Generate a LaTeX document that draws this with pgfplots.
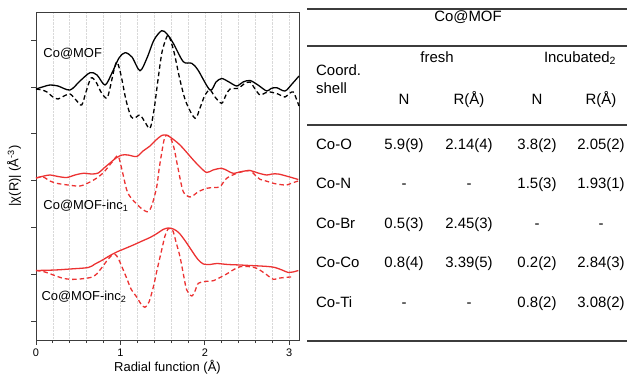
\documentclass[border=0pt]{standalone}
\usepackage{fontspec}
\setmainfont{Liberation Sans}
\usepackage{pgfplots}
\pgfplotsset{compat=1.18}
\definecolor{myred}{RGB}{236,50,50}
\definecolor{frm}{RGB}{60,60,60}
\begin{document}
\begin{tikzpicture}
\useasboundingbox (0,0) rectangle (627bp,-375bp);
\begin{axis}[
  at={(36bp,-340bp)}, anchor=south west,
  width=263bp, height=328bp, scale only axis,
  xmin=0, xmax=3.116, ymin=0, ymax=328,
  axis line style={frm, line width=0.9pt},
  xtick={0,1,2,3},
  minor xtick={0.2,0.4,0.6,0.8,1.2,1.4,1.6,1.8,2.2,2.4,2.6,2.8,3.0},
  ytick={19,66,113,160,207,253,300}, yticklabels={},
  tick align=outside, tick pos=left,
  major tick length=5bp, minor tick length=3bp,
  tick style={frm, line width=0.8pt},
  xmajorgrids, xminorgrids,
  major grid style={densely dotted, black!15, line width=0.6pt},
  minor grid style={densely dotted, black!15, line width=0.6pt},
  /pgf/number format/assume math mode=true,
  ticklabel style={font=\fontsize{11}{13}\selectfont},
  xlabel={Radial function (Å)},
  ylabel={|χ(R)| (Å\textsuperscript{-3})},
  label style={font=\fontsize{13}{15}\selectfont},
  xlabel style={at={(axis description cs:0.5,-0.082)}, anchor=center},
  ylabel style={at={(axis description cs:-0.083,0.5)}, anchor=center},
  clip=false,
]
% top black solid
\addplot[black, line width=1.3pt, smooth, tension=0.5] coordinates {
(0,251) (0.095,253.5) (0.166,255) (0.261,254) (0.403,250) (0.521,259) (0.640,267.3) (0.723,265)
(0.818,255) (0.9,267) (0.983,282) (1.055,287.3) (1.137,283) (1.232,269.3) (1.315,282) (1.398,300)
(1.489,309.3) (1.552,306) (1.627,296.7) (1.745,278.3) (1.845,276.7) (1.919,270) (2.062,250)
(2.133,258) (2.200,261.5) (2.287,258) (2.378,254) (2.453,258) (2.536,259.5) (2.630,255)
(2.733,249) (2.784,251.5) (2.852,252.3) (2.950,249) (3.033,256) (3.116,264)};
% top black dashed
\addplot[black, line width=1.3pt, dash pattern=on 4.5bp off 3bp, smooth, tension=0.5] coordinates {
(0,251) (0.071,250) (0.130,248) (0.201,243) (0.261,241) (0.332,244) (0.403,246) (0.474,240)
(0.541,235) (0.592,248) (0.652,262) (0.711,258) (0.770,248) (0.838,241.7) (0.877,252) (0.924,270)
(0.960,278) (1.007,265) (1.066,240) (1.126,223.3) (1.173,222) (1.232,225) (1.291,218) (1.351,211.7)
(1.398,230) (1.445,260) (1.493,288) (1.549,303) (1.576,304) (1.635,288) (1.706,260) (1.777,238)
(1.884,221.7) (1.943,232) (2.002,245) (2.062,250) (2.121,243) (2.200,236.7) (2.251,245) (2.299,251)
(2.397,251.7) (2.464,256) (2.536,258) (2.595,251) (2.654,245) (2.713,247) (2.773,248) (2.867,246)
(2.950,243) (3.009,247) (3.049,248) (3.081,242) (3.116,234)};
% middle red solid
\addplot[myred, line width=1.3pt, smooth, tension=0.5] coordinates {
(0,162) (0.095,164) (0.166,165) (0.261,163.5) (0.364,162.5) (0.462,165) (0.560,166.7) (0.664,166)
(0.738,167) (0.806,172) (0.877,177) (0.948,182) (1.019,185) (1.090,185) (1.193,183.5) (1.268,189)
(1.351,194) (1.422,200) (1.489,204.5) (1.540,205) (1.588,203) (1.706,195) (1.864,180) (1.943,173)
(2.022,167.5) (2.097,170) (2.200,171.7) (2.275,169) (2.338,166.7) (2.441,168.5) (2.536,169.5)
(2.630,167) (2.733,165) (2.796,166) (2.871,166) (2.986,163.5) (3.108,160.5)};
% middle red dashed
\addplot[myred, line width=1.3pt, dash pattern=on 4.5bp off 3bp, smooth, tension=0.5] coordinates {
(0,162) (0.083,163) (0.166,159) (0.245,156.7) (0.379,155) (0.521,154) (0.640,158) (0.738,163)
(0.806,168) (0.857,173.3) (0.912,179) (0.972,184) (1.019,170) (1.075,150) (1.126,142) (1.193,136)
(1.256,131) (1.327,128.3) (1.374,135) (1.430,153) (1.457,170) (1.489,187) (1.517,200) (1.540,204.5)
(1.588,203) (1.635,192) (1.682,172) (1.745,148.3) (1.825,143) (1.872,145) (1.923,148.3) (2.022,151.7)
(2.109,152.5) (2.180,153.3) (2.259,161.7) (2.378,166.7) (2.453,168.5) (2.536,169.5) (2.595,165)
(2.654,160.7) (2.725,159) (2.812,156.7) (2.891,155.5) (2.970,155) (3.033,157) (3.108,159)};
% bottom red solid
\addplot[myred, line width=1.3pt, smooth, tension=0.5] coordinates {
(0,69.5) (0.225,70) (0.403,71) (0.620,72.5) (0.699,76) (0.778,79.5) (0.877,84.5) (0.956,88)
(1.055,91.5) (1.153,95) (1.271,99.5) (1.351,102.5) (1.434,106.5) (1.505,110.5) (1.564,112)
(1.611,111.5) (1.659,109.5) (1.706,106) (1.777,98) (1.864,87) (1.919,80.5) (1.982,76) (2.062,75.5)
(2.141,76.5) (2.275,75.5) (2.417,75) (2.536,74.5) (2.654,74) (2.749,73.5) (2.832,72.5) (2.915,70)
(2.989,67.5) (3.045,68) (3.108,69.5)};
% bottom red dashed
\addplot[myred, line width=1.3pt, dash pattern=on 4.5bp off 3bp, smooth, tension=0.5] coordinates {
(0,69.5) (0.107,68) (0.205,65) (0.308,62) (0.403,60.7) (0.521,61) (0.679,63.3) (0.758,70)
(0.838,79) (0.889,84) (0.936,85.7) (0.972,82) (1.019,73) (1.075,61.7) (1.126,51) (1.193,43)
(1.244,36) (1.291,32.7) (1.339,38) (1.390,53) (1.434,70) (1.489,90) (1.528,104) (1.564,111)
(1.588,111.7) (1.623,109) (1.659,98) (1.706,83.3) (1.748,65) (1.786,50) (1.845,44) (1.884,49)
(1.923,56.7) (2.002,58.5) (2.101,59.3) (2.180,62.5) (2.259,66) (2.334,70) (2.417,73.3) (2.512,73.5)
(2.615,71.7) (2.713,66.5) (2.812,60.7) (2.891,62) (2.970,62.7) (3.049,63.3)};
\node[anchor=mid west, font=\fontsize{13}{15}\selectfont] at (axis cs:0.047,285) {Co@MOF};
\node[anchor=mid west, font=\fontsize{13}{15}\selectfont] at (axis cs:0.047,133) {Co@MOF-inc\textsubscript{1}};
\node[anchor=mid west, font=\fontsize{13}{15}\selectfont] at (axis cs:0.024,42) {Co@MOF-inc\textsubscript{2}};
\end{axis}
% table
\begin{scope}[every node/.style={font=\fontsize{15}{17}\selectfont, inner sep=0pt}]
\draw[frm, line width=1.3pt] (307bp,-9bp) -- (627bp,-9bp);
\draw[frm, line width=1.3pt] (307bp,-46bp) -- (627bp,-46bp);
\draw[frm, line width=1.3pt] (307bp,-125bp) -- (627bp,-125bp);
\draw[frm, line width=1.3pt] (307bp,-341bp) -- (627bp,-341bp);
\node[anchor=mid] at (468bp,-19bp) {Co@MOF};
\node[anchor=mid] at (437bp,-60bp) {fresh};
\node[anchor=mid] at (580bp,-60bp) {Incubated\textsubscript{2}};
\node[anchor=mid west] at (316bp,-73bp) {Coord.};
\node[anchor=mid west] at (316bp,-91bp) {shell};
\node[anchor=mid] at (404bp,-102bp) {N};
\node[anchor=mid] at (469bp,-102bp) {R(Å)};
\node[anchor=mid] at (537bp,-102bp) {N};
\node[anchor=mid] at (601bp,-102bp) {R(Å)};
% rows
\node[anchor=mid west] at (316bp,-147bp) {Co-O};
\node[anchor=mid] at (404bp,-147bp) {5.9(9)};
\node[anchor=mid] at (469bp,-147bp) {2.14(4)};
\node[anchor=mid] at (537bp,-147bp) {3.8(2)};
\node[anchor=mid] at (601bp,-147bp) {2.05(2)};
\node[anchor=mid west] at (316bp,-186bp) {Co-N};
\node[anchor=mid] at (404bp,-186bp) {-};
\node[anchor=mid] at (469bp,-186bp) {-};
\node[anchor=mid] at (537bp,-186bp) {1.5(3)};
\node[anchor=mid] at (601bp,-186bp) {1.93(1)};
\node[anchor=mid west] at (316bp,-226bp) {Co-Br};
\node[anchor=mid] at (404bp,-226bp) {0.5(3)};
\node[anchor=mid] at (469bp,-226bp) {2.45(3)};
\node[anchor=mid] at (537bp,-226bp) {-};
\node[anchor=mid] at (601bp,-226bp) {-};
\node[anchor=mid west] at (316bp,-265bp) {Co-Co};
\node[anchor=mid] at (404bp,-265bp) {0.8(4)};
\node[anchor=mid] at (469bp,-265bp) {3.39(5)};
\node[anchor=mid] at (537bp,-265bp) {0.2(2)};
\node[anchor=mid] at (601bp,-265bp) {2.84(3)};
\node[anchor=mid west] at (316bp,-305bp) {Co-Ti};
\node[anchor=mid] at (404bp,-305bp) {-};
\node[anchor=mid] at (469bp,-305bp) {-};
\node[anchor=mid] at (537bp,-305bp) {0.8(2)};
\node[anchor=mid] at (601bp,-305bp) {3.08(2)};
\end{scope}
\end{tikzpicture}
\end{document}
